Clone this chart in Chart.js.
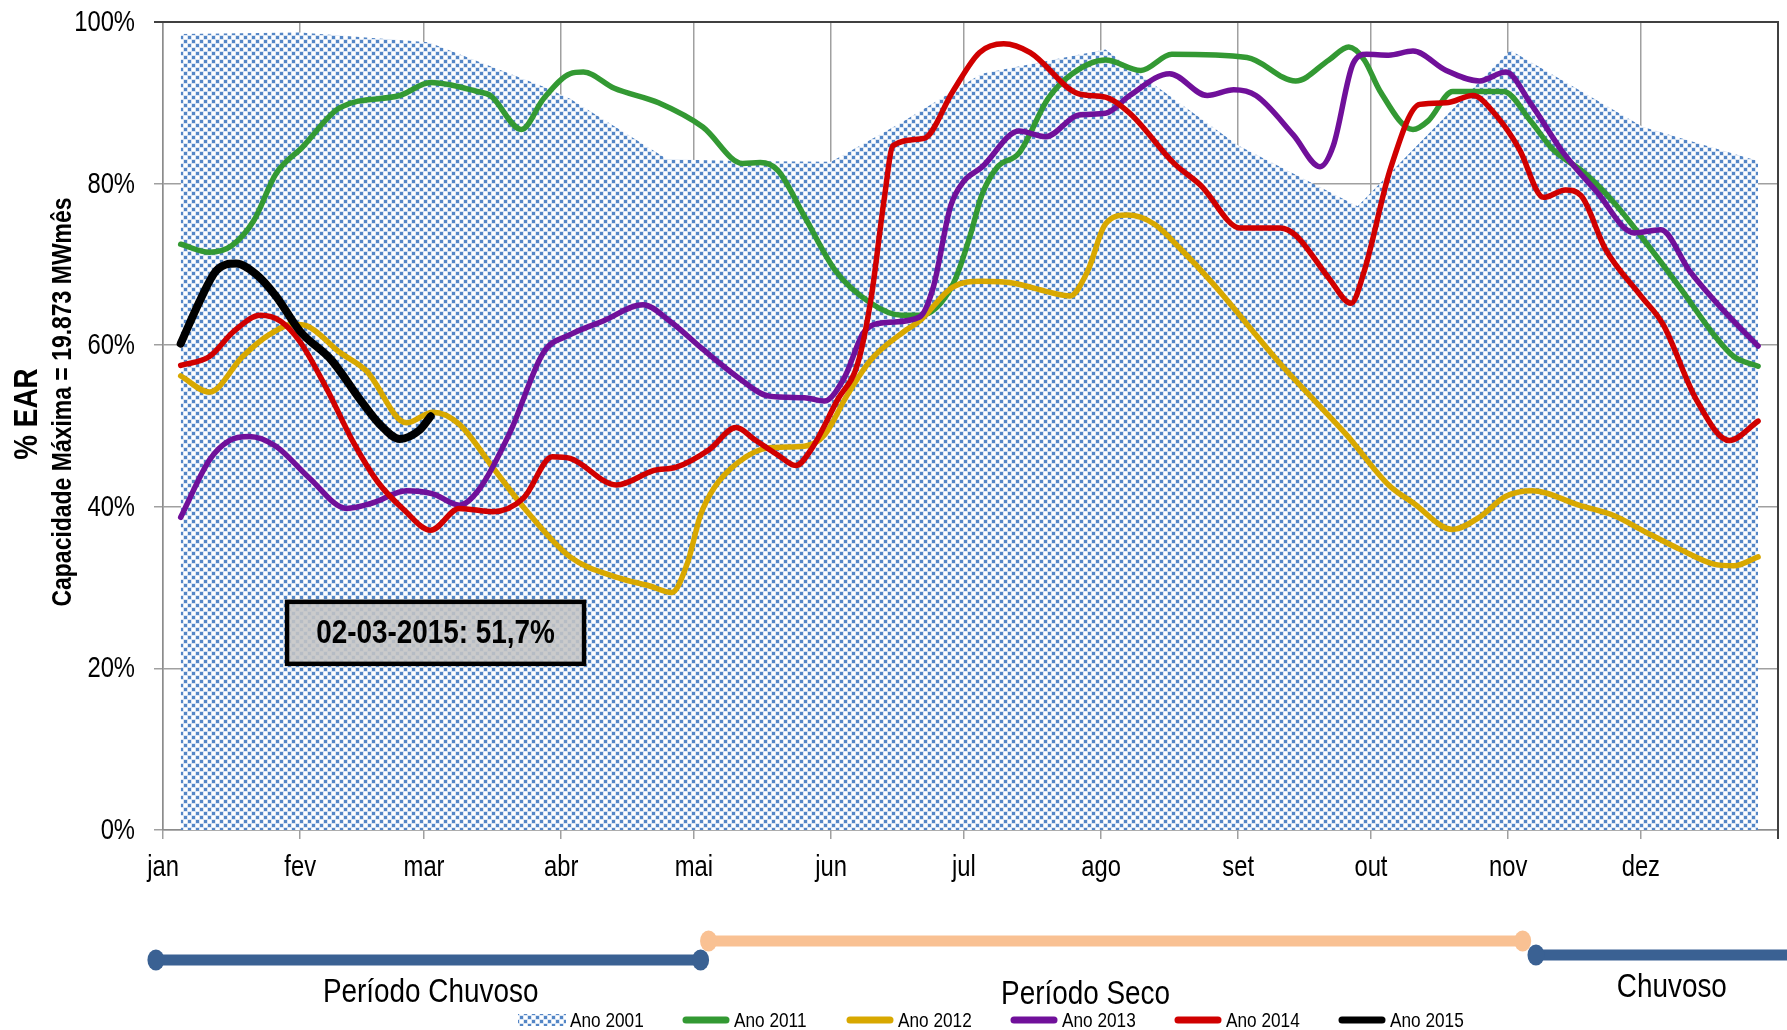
<!DOCTYPE html>
<html><head><meta charset="utf-8">
<script src="https://cdn.jsdelivr.net/npm/chart.js@4.4.1/dist/chart.umd.min.js"></script>
<style>html,body{margin:0;padding:0;background:#fff}canvas{display:block}</style>
</head><body>
<canvas id="c" width="1787" height="1030"></canvas>
<script>
// ---------- data ----------
const monthLabels = ['jan','fev','mar','abr','mai','jun','jul','ago','set','out','nov','dez'];
const monthStartDays = [0,31,59,90,120,151,181,212,243,273,304,334];
const yearEndDay = 365;
const yTickValues = [0,20,40,60,80,100];
const seriesNames = ['Ano 2001','Ano 2011','Ano 2012','Ano 2013','Ano 2014','Ano 2015'];

const days2001 = [4,31,60,86,92,114,130,151,167,185,200,213,243,270,304.5,334.5,360.5];
const ear2001  = [98.5,98.7,97.5,92.0,90.5,83.0,82.8,82.7,87.6,93.6,95.2,96.6,84.7,77.2,96.5,87.0,82.8];

const days2011 = [4,10.5,15.5,20.5,25.5,31.5,40,53.5,60.5,71,74,81,86,92,95,102,112,122,131,135,139,145,152,160,167,171,178.5,182.5,185,188.5,193.5,200,205.5,213,221,228,245,256,263.5,268,271.5,275,282.5,286,291.5,303,309,314,321.5,328,335,343,350.5,355,360.5];
const ear2011  = [72.5,71.5,72.3,75.4,81.2,84.5,89.4,90.9,92.5,91.4,90.9,86.7,90.5,93.6,93.8,91.8,90.0,87.0,82.5,82.6,81.6,75.9,69.2,65.2,63.7,63.7,67.5,73.7,78.5,82.0,83.8,90.5,93.6,95.3,94.0,96.0,95.6,92.7,95.3,96.9,95.3,91.5,86.7,87.8,91.4,91.4,87.8,84.3,81.2,77.6,72.8,67.0,61.3,58.6,57.4];

const days2012 = [4,10.5,18,24,29.5,32.5,40,46,55,61,67,74.5,82,92,103,110,115,118.5,121.5,124.5,130,137,145,149.5,154.5,160,167.5,171,178.5,185,192,200,205,209,213,218,224,230,237.5,245,252.5,260,267.5,277,282.5,291.5,297.5,303.5,309.5,320,328,335,343,350.5,355,360.5];
const ear2012  = [56.2,54.2,58.6,61.3,62.6,62.4,59.1,56.8,50.4,51.7,50.2,44.9,39.6,33.8,31.2,30.2,29.4,33.0,39.0,42.3,45.5,47.3,47.5,48.9,53.7,58.2,61.7,63.0,67.2,67.9,67.7,66.6,66.1,69.2,75.0,76.1,75.0,71.9,67.5,62.6,57.7,53.3,48.9,42.7,40.5,37.2,38.7,41.3,42.0,40.2,38.9,36.9,34.7,32.9,32.7,33.8];

const days2013 = [4,10.5,15,19.5,25.5,33,41.5,47.5,55,61,67,71.5,78.5,86,92,99.5,108.5,114.5,122,129.5,137,145,149.5,154,158.5,163.5,171,174,178,181,185,193.5,199.5,207,213,218.5,227.5,236,242,247,255.5,261.5,264.5,269,272,277,282.5,290,297.5,303.5,309,316.5,324,332.5,338.5,345,352.5,360.5];
const ear2013  = [38.7,45.8,48.2,48.7,47.5,43.6,39.8,40.5,42.0,41.6,40.2,42.2,49.3,59.1,61.3,63.0,65.0,63.0,59.5,56.2,53.7,53.5,53.1,56.0,61.7,62.8,63.5,67.0,77.2,80.3,82.0,86.5,85.8,88.5,88.7,90.9,93.6,90.9,91.6,90.9,86.0,82.1,84.7,94.9,96.0,95.9,96.4,94.0,92.7,93.8,90.0,83.8,79.0,73.9,74.3,69.2,64.4,59.9];

const days2014 = [4,10.5,16,22,26.5,31,37,43,48.5,54.5,60.5,67,74.5,81.5,88,92,102.5,111,116,123.5,129.5,134,139,143,146.5,152.5,157,160,163,165,172,178.5,184.5,190,196,207,213,218.5,228.5,234.5,243.5,252.5,256,263.5,268.5,271.5,277.5,284,290,296,301.5,306.5,312,317,320.5,326,334,339,346.5,354,360.5];
const ear2014  = [57.5,58.6,61.7,63.7,63.0,60.4,54.6,48.0,43.1,39.6,37.1,39.8,39.4,41.1,46.2,46.0,42.7,44.5,44.9,47.1,49.8,48.2,46.4,45.1,47.1,53.3,57.7,65.7,78.1,84.7,85.6,91.4,96.2,97.3,96.2,91.1,90.7,88.7,82.5,79.8,74.5,74.5,73.6,68.3,65.2,69.2,82.0,89.8,90.0,90.9,88.3,84.3,78.3,79.2,78.5,71.9,66.1,62.6,53.3,48.2,50.6];

const days2015 = [4,8.5,12,16.5,21,25.5,31,38,44.5,49,53.5,58,60.5];
const ear2015  = [60.2,65.7,69.2,70.1,68.8,66.1,61.7,58.2,53.3,50.2,48.4,49.5,51.2];

const annotationText = '02-03-2015: 51,7%';
const yTitle = '% EAR';
const ySubTitle = 'Capacidade Máxima = 19.873 MWmês';
const periodLabels = ['Período Chuvoso','Período Seco','Chuvoso'];
const periodStartDays = [-1.6,123.3,310.3];
const periodEndDays = [121.5,307.3,430];
const periodLabelDays = [60.5,208.5,341];

// ---------- styling ----------
const FAMILY = "'Liberation Sans',Arial,sans-serif";
const NARROW_K = 0.82; // Arial Narrow proportions
Chart.defaults.font.family = FAMILY;
Chart.defaults.color = '#000';

function narrowText(ctx, text, x, y, font, align, baseline, rot){
  ctx.save();
  ctx.translate(x, y);
  if (rot) ctx.rotate(rot);
  ctx.scale(NARROW_K, 1);
  ctx.font = font; ctx.textAlign = align || 'center'; ctx.textBaseline = baseline || 'middle';
  ctx.fillStyle = '#000';
  ctx.fillText(text, 0, 0);
  ctx.restore();
}

function makePattern(){
  const t = document.createElement('canvas');
  t.width = 8; t.height = 8;
  const g = t.getContext('2d');
  g.fillStyle = '#ffffff'; g.fillRect(0,0,8,8);
  const dots = [[0,0],[4,4]];
  g.fillStyle = '#dbe6f4';
  const offs = [[0,0],[8,0],[-8,0],[0,8],[0,-8]];
  dots.forEach(([x,y])=>{ offs.forEach(([ox,oy])=>g.fillRect(x+ox-1,y+oy-1,5,5)); });
  g.fillStyle = '#5486c6';
  dots.forEach(([x,y])=>{ g.fillRect(x,y,3,3); });
  return document.getElementById('c').getContext('2d').createPattern(t,'repeat');
}
const pattern = makePattern();

const seriesColors = ['#5486c6','#339933','#d8a800','#70109a','#d00000','#000000'];
const toPts = (d,v) => d.map((x,i)=>({x:x, y:v[i]}));

const lineDs = (i, days, vals, w, order) => ({
  label: seriesNames[i], data: toPts(days, vals), borderColor: seriesColors[i],
  borderWidth: w, pointRadius: 0, fill: false, cubicInterpolationMode: 'monotone',
  borderCapStyle: 'round', borderJoinStyle: 'round', order: order
});

const decorPlugin = {
  id: 'decor',
  afterDatasetsDraw(chart){
    const ctx = chart.ctx, xs = chart.scales.x, ys = chart.scales.y;
    const cx = xs.getPixelForValue(61.6), cy = ys.getPixelForValue(24.4);
    const w = 297, h = 62;
    ctx.save();
    ctx.fillStyle = 'rgba(196,196,196,0.88)';
    ctx.fillRect(cx-w/2, cy-h/2, w, h);
    ctx.lineWidth = 4.5; ctx.strokeStyle = '#000';
    ctx.strokeRect(cx-w/2, cy-h/2, w, h);
    ctx.restore();
    narrowText(ctx, annotationText, cx, cy+1, "bold 34px " + FAMILY);
  },
  afterDraw(chart){
    const ctx = chart.ctx, xs = chart.scales.x, ys = chart.scales.y, a = chart.chartArea;
    ctx.save();
    ctx.strokeStyle = '#404040'; ctx.lineWidth = 2;
    ctx.beginPath(); ctx.moveTo(a.left-9, a.top); ctx.lineTo(a.right, a.top); ctx.lineTo(a.right, a.bottom+9); ctx.stroke();
    ctx.restore();

    // tick labels (narrow)
    yTickValues.forEach(v => narrowText(ctx, v + '%', 135, ys.getPixelForValue(v) + 1, "29px " + FAMILY, 'right'));
    monthLabels.forEach((m, i) => narrowText(ctx, m, xs.getPixelForValue(monthStartDays[i]), 868, "29px " + FAMILY));

    // y axis titles
    narrowText(ctx, yTitle, 28, 414, "bold 34px " + FAMILY, 'center', 'middle', -Math.PI/2);
    narrowText(ctx, ySubTitle, 63, 402, "bold 28px " + FAMILY, 'center', 'middle', -Math.PI/2);

    // period bars
    const barY = [960, 941, 955];
    const barC = ['#3a6193', '#f9c193', '#3a6193'];
    const textY = [993, 995, 988];
    ctx.save();
    for (let i=0;i<periodLabels.length;i++){
      const x1 = xs.getPixelForValue(periodStartDays[i]);
      const x2 = xs.getPixelForValue(periodEndDays[i]);
      ctx.strokeStyle = barC[i]; ctx.lineWidth = 11; ctx.lineCap = 'butt';
      ctx.beginPath(); ctx.moveTo(x1, barY[i]); ctx.lineTo(x2, barY[i]); ctx.stroke();
      ctx.fillStyle = barC[i];
      ctx.beginPath(); ctx.ellipse(x1, barY[i], 8.5, 10.5, 0, 0, Math.PI*2); ctx.fill();
      if (x2 < chart.width) { ctx.beginPath(); ctx.ellipse(x2, barY[i], 8.5, 10.5, 0, 0, Math.PI*2); ctx.fill(); }
    }
    ctx.restore();
    periodLabels.forEach((p, i) => narrowText(ctx, p, xs.getPixelForValue(periodLabelDays[i]), textY[i], "34px " + FAMILY));

    // legend
    const ly = 1020;
    chart.data.datasets.forEach((ds, i) => {
      const x0 = 518 + i*164;
      ctx.save();
      if (i === 0) {
        ctx.fillStyle = pattern; ctx.fillRect(x0, ly-6, 48, 12);
      } else {
        ctx.strokeStyle = ds.borderColor; ctx.lineWidth = 7; ctx.lineCap = 'round';
        ctx.beginPath(); ctx.moveTo(x0+4, ly); ctx.lineTo(x0+44, ly); ctx.stroke();
      }
      ctx.restore();
      narrowText(ctx, ds.label, x0+52, ly+1, "21px " + FAMILY, 'left');
    });
  }
};

new Chart(document.getElementById('c'), {
  type: 'line',
  data: {
    datasets: [
      { label: seriesNames[0], data: toPts(days2001, ear2001), fill: 'origin', backgroundColor: pattern,
        borderWidth: 0, borderColor: 'rgba(0,0,0,0)', pointRadius: 0, tension: 0, order: 6 },
      lineDs(1, days2011, ear2011, 5.5, 5),
      lineDs(2, days2012, ear2012, 5.5, 4),
      lineDs(3, days2013, ear2013, 5.5, 3),
      lineDs(4, days2014, ear2014, 5.5, 2),
      lineDs(5, days2015, ear2015, 8, 1)
    ]
  },
  options: {
    responsive: false, animation: false, devicePixelRatio: 1,
    layout: { padding: { top: 22, right: 9, left: 0, bottom: 0 } },
    plugins: { legend: { display: false }, tooltip: { enabled: false } },
    scales: {
      x: {
        type: 'linear', min: 0, max: yearEndDay,
        afterBuildTicks: s => { s.ticks = monthStartDays.concat([yearEndDay]).map(v => ({ value: v })); },
        ticks: {
          callback: (v) => { const i = monthStartDays.indexOf(v); return i >= 0 ? monthLabels[i] : ''; },
          font: { size: 8 }, color: 'rgba(0,0,0,0)', padding: 0, maxRotation: 0, autoSkip: false
        },
        grid: { color: '#a0a0a0', lineWidth: 1.5, tickLength: 9 },
        border: { color: '#8c8c8c', width: 1.5 },
        afterFit: s => { s.height = 200; }
      },
      y: {
        min: 0, max: 100,
        afterBuildTicks: s => { s.ticks = yTickValues.map(v => ({ value: v })); },
        ticks: { callback: v => v + '%', font: { size: 8 }, color: 'rgba(0,0,0,0)', padding: 0 },
        grid: { color: '#a0a0a0', lineWidth: 1.5, tickLength: 9 },
        border: { color: '#8c8c8c', width: 1.5 },
        afterFit: s => { s.width = 163; }
      }
    }
  },
  plugins: [decorPlugin]
});
</script>
</body></html>
